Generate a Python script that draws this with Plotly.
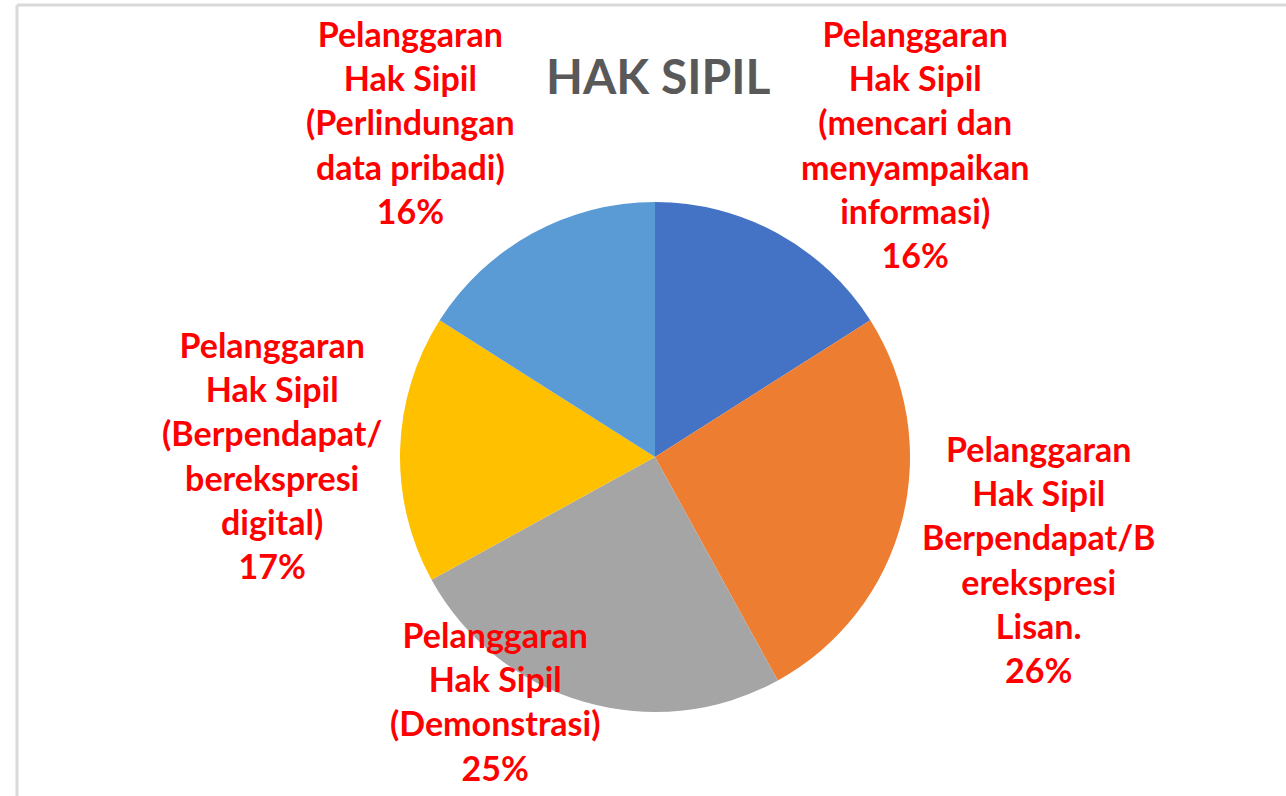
import plotly.graph_objects as go

title_text = "HAK SIPIL"
categories = [
    "Pelanggaran Hak Sipil (mencari dan menyampaikan informasi)",
    "Pelanggaran Hak Sipil Berpendapat/Berekspresi Lisan.",
    "Pelanggaran Hak Sipil (Demonstrasi)",
    "Pelanggaran Hak Sipil (Berpendapat/ berekspresi digital)",
    "Pelanggaran Hak Sipil (Perlindungan data pribadi)",
]
values = [16, 26, 25, 17, 16]
label_lines = [
    ["Pelanggaran", "Hak Sipil", "(mencari dan", "menyampaikan", "informasi)"],
    ["Pelanggaran", "Hak Sipil", "Berpendapat/B", "erekspresi", "Lisan."],
    ["Pelanggaran", "Hak Sipil", "(Demonstrasi)"],
    ["Pelanggaran", "Hak Sipil", "(Berpendapat/", "berekspresi", "digital)"],
    ["Pelanggaran", "Hak Sipil", "(Perlindungan", "data pribadi)"],
]
colors = ["#4472C4", "#ED7D31", "#A5A5A5", "#FFC000", "#5B9BD5"]

W, H = 1286, 796
# label block centres (pixels): x, top y
label_pos = [(915, 11), (1038, 426), (495, 612), (272, 322), (410, 11)]

total = sum(values)
pcts = [round(v * 100 / total) for v in values]

fig = go.Figure()
fig.add_trace(go.Pie(
    labels=categories,
    values=values,
    sort=False,
    direction="clockwise",
    rotation=0,
    marker=dict(colors=colors, line=dict(width=0)),
    textinfo="none",
    hoverinfo="label+percent",
    showlegend=False,
    domain=dict(x=[(655 - 255) / W, (655 + 255) / W],
                y=[(339 - 255) / H, (339 + 255) / H]),
))

annotations = []
for lines, pct, (cx, ty) in zip(label_lines, pcts, label_pos):
    text = "<br>".join(lines + [f"{pct}%"])
    annotations.append(dict(
        text=text, x=cx / W, y=1 - ty / H, xref="paper", yref="paper",
        xanchor="center", yanchor="top", showarrow=False, align="center",
        font=dict(family="Lato", size=34, color="#FF0000", weight="bold"),
    ))
annotations.append(dict(
    text=title_text, x=658 / W, y=1 - 75 / H, xref="paper", yref="paper",
    xanchor="center", yanchor="middle", showarrow=False,
    font=dict(family="Lato", size=48, color="#595959", weight="bold"),
))

fig.update_layout(
    width=W, height=H,
    margin=dict(l=0, r=0, t=0, b=0),
    paper_bgcolor="white",
    plot_bgcolor="white",
    annotations=annotations,
    shapes=[
        dict(type="line", xref="paper", yref="paper", x0=17 / W, x1=1.0,
             y0=1 - 5 / H, y1=1 - 5 / H, line=dict(color="#D9D9D9", width=3)),
        dict(type="line", xref="paper", yref="paper", x0=17 / W, x1=17 / W,
             y0=0, y1=1 - 5 / H, line=dict(color="#D9D9D9", width=3)),
    ],
)

fig.write_html("out.html", config={"displayModeBar": False},
               post_script="document.body.style.margin='0';")
